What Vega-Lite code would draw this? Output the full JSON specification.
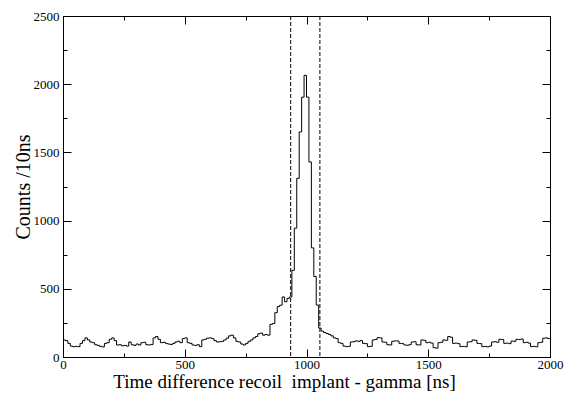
{
  "$schema": "https://vega.github.io/schema/vega-lite/v6.json",
  "width": 487,
  "height": 341,
  "autosize": "none",
  "padding": {"left": 63, "top": 16, "right": 14, "bottom": 36},
  "background": "white",
  "config": {
    "view": {"stroke": "black", "strokeWidth": 1},
    "font": "Liberation Serif",
    "axis": {
      "grid": false,
      "domainColor": "black",
      "tickColor": "black",
      "labelColor": "black",
      "labelFont": "Liberation Serif",
      "labelFontSize": 13,
      "titleFont": "Liberation Serif",
      "titleColor": "black",
      "titleFontWeight": "normal"
    }
  },
  "layer": [
    {
      "data": {"values": [
        {"t":0,"c":125},{"t":10,"c":120},{"t":20,"c":100},{"t":30,"c":80},{"t":40,"c":75},{"t":50,"c":78},{"t":60,"c":76},{"t":70,"c":100},{"t":80,"c":120},{"t":90,"c":140},
        {"t":100,"c":125},{"t":110,"c":110},{"t":120,"c":105},{"t":130,"c":90},{"t":140,"c":85},{"t":150,"c":78},{"t":160,"c":74},{"t":170,"c":100},{"t":180,"c":105},{"t":190,"c":130},
        {"t":200,"c":140},{"t":210,"c":120},{"t":220,"c":88},{"t":230,"c":90},{"t":240,"c":82},{"t":250,"c":85},{"t":260,"c":80},{"t":270,"c":110},{"t":280,"c":90},{"t":290,"c":85},
        {"t":300,"c":95},{"t":310,"c":88},{"t":320,"c":105},{"t":330,"c":108},{"t":340,"c":90},{"t":350,"c":88},{"t":360,"c":92},{"t":370,"c":140},{"t":380,"c":150},{"t":390,"c":130},
        {"t":400,"c":105},{"t":410,"c":108},{"t":420,"c":100},{"t":430,"c":95},{"t":440,"c":92},{"t":450,"c":100},{"t":460,"c":110},{"t":470,"c":115},{"t":480,"c":105},{"t":490,"c":135},
        {"t":500,"c":140},{"t":510,"c":105},{"t":520,"c":100},{"t":530,"c":88},{"t":540,"c":85},{"t":550,"c":90},{"t":560,"c":76},{"t":570,"c":125},{"t":580,"c":130},{"t":590,"c":138},
        {"t":600,"c":140},{"t":610,"c":135},{"t":620,"c":120},{"t":630,"c":110},{"t":640,"c":112},{"t":650,"c":115},{"t":660,"c":125},{"t":670,"c":138},{"t":680,"c":155},{"t":690,"c":160},
        {"t":700,"c":140},{"t":710,"c":115},{"t":720,"c":110},{"t":730,"c":95},{"t":740,"c":88},{"t":750,"c":100},{"t":760,"c":115},{"t":770,"c":125},{"t":780,"c":140},{"t":790,"c":150},
        {"t":800,"c":170},{"t":810,"c":175},{"t":820,"c":160},{"t":830,"c":165},{"t":840,"c":160},{"t":850,"c":240},{"t":860,"c":245},{"t":870,"c":325},{"t":880,"c":370},{"t":890,"c":380},
        {"t":900,"c":440},{"t":910,"c":405},{"t":920,"c":430},{"t":930,"c":440},{"t":940,"c":635},{"t":950,"c":945},{"t":960,"c":1310},{"t":970,"c":1650},{"t":980,"c":1905},{"t":990,"c":2065},
        {"t":1000,"c":1905},{"t":1010,"c":1430},{"t":1020,"c":800},{"t":1030,"c":590},{"t":1040,"c":381},{"t":1050,"c":212},{"t":1060,"c":190},{"t":1070,"c":180},{"t":1080,"c":172},{"t":1090,"c":165},
        {"t":1100,"c":155},{"t":1110,"c":140},{"t":1120,"c":135},{"t":1130,"c":105},{"t":1140,"c":100},{"t":1150,"c":80},{"t":1160,"c":76},{"t":1170,"c":78},{"t":1180,"c":110},{"t":1190,"c":112},
        {"t":1200,"c":118},{"t":1210,"c":115},{"t":1220,"c":120},{"t":1230,"c":100},{"t":1240,"c":98},{"t":1250,"c":76},{"t":1260,"c":78},{"t":1270,"c":125},{"t":1280,"c":128},{"t":1290,"c":142},
        {"t":1300,"c":140},{"t":1310,"c":110},{"t":1320,"c":108},{"t":1330,"c":90},{"t":1340,"c":88},{"t":1350,"c":115},{"t":1360,"c":118},{"t":1370,"c":117},{"t":1380,"c":100},{"t":1390,"c":98},
        {"t":1400,"c":88},{"t":1410,"c":86},{"t":1420,"c":90},{"t":1430,"c":110},{"t":1440,"c":112},{"t":1450,"c":90},{"t":1460,"c":88},{"t":1470,"c":125},{"t":1480,"c":122},{"t":1490,"c":105},
        {"t":1500,"c":108},{"t":1510,"c":102},{"t":1520,"c":68},{"t":1530,"c":65},{"t":1540,"c":105},{"t":1550,"c":108},{"t":1560,"c":125},{"t":1570,"c":122},{"t":1580,"c":150},{"t":1590,"c":145},
        {"t":1600,"c":100},{"t":1610,"c":102},{"t":1620,"c":98},{"t":1630,"c":76},{"t":1640,"c":78},{"t":1650,"c":75},{"t":1660,"c":110},{"t":1670,"c":112},{"t":1680,"c":125},{"t":1690,"c":122},
        {"t":1700,"c":100},{"t":1710,"c":98},{"t":1720,"c":76},{"t":1730,"c":78},{"t":1740,"c":75},{"t":1750,"c":80},{"t":1760,"c":110},{"t":1770,"c":112},{"t":1780,"c":108},{"t":1790,"c":130},
        {"t":1800,"c":128},{"t":1810,"c":100},{"t":1820,"c":102},{"t":1830,"c":98},{"t":1840,"c":117},{"t":1850,"c":115},{"t":1860,"c":130},{"t":1870,"c":128},{"t":1880,"c":132},{"t":1890,"c":105},
        {"t":1900,"c":108},{"t":1910,"c":102},{"t":1920,"c":76},{"t":1930,"c":78},{"t":1940,"c":75},{"t":1950,"c":105},{"t":1960,"c":108},{"t":1970,"c":138},{"t":1980,"c":140},{"t":1990,"c":135},
        {"t":2000,"c":135}
      ]},
      "mark": {"type": "line", "interpolate": "step-after", "color": "black", "strokeWidth": 1},
      "encoding": {
        "x": {
          "field": "t", "type": "quantitative",
          "scale": {"domain": [0, 2000], "nice": false, "zero": false},
          "title": "Time difference recoil\u00a0 implant - gamma [ns]",
          "axis": {
            "orient": "bottom",
            "values": [0,250,500,750,1000,1250,1500,1750,2000],
            "format": "d",
            "labelExpr": "datum.value % 500 === 0 ? datum.label : ''",
            "tickSize": {"condition": {"test": "datum.value % 500 === 0", "value": -8}, "value": -4},
            "labelPadding": 9,
            "labelFont": "Liberation Serif",
            "labelFlush": false,
            "labelOverlap": false,
            "titleFontSize": 19,
            "titlePadding": -3,
            "titleX": 221,
            "titleAlign": "center"
          }
        },
        "y": {
          "field": "c", "type": "quantitative",
          "scale": {"domain": [0, 2500], "nice": false},
          "title": "Counts /10ns",
          "axis": {
            "orient": "left",
            "values": [0,250,500,750,1000,1250,1500,1750,2000,2250,2500],
            "format": "d",
            "labelExpr": "datum.value % 500 === 0 ? datum.label : ''",
            "tickSize": {"condition": {"test": "datum.value % 500 === 0", "value": -8}, "value": -4},
            "labelPadding": 12,
            "labelFont": "Liberation Serif",
            "labelFlush": false,
            "labelOverlap": false,
            "titleFontSize": 20,
            "titlePadding": 0
          }
        }
      }
    },
    {
      "data": {"values": [{"t": 935}, {"t": 1055}]},
      "mark": {"type": "rule", "color": "black", "strokeWidth": 1, "strokeDash": [4, 2]},
      "encoding": {
        "x": {
          "field": "t", "type": "quantitative",
          "axis": {
            "orient": "top",
            "values": [0,250,500,750,1000,1250,1500,1750,2000],
            "labels": false,
            "title": null,
            "tickSize": {"condition": {"test": "datum.value % 500 === 0", "value": -8}, "value": -4}
          }
        }
      }
    },
    {
      "data": {"values": [{"t": 0, "c": 0}]},
      "mark": {"type": "point", "opacity": 0},
      "encoding": {
        "x": {"field": "t", "type": "quantitative", "axis": null},
        "y": {
          "field": "c", "type": "quantitative",
          "axis": {
            "orient": "right",
            "values": [0,250,500,750,1000,1250,1500,1750,2000,2250,2500],
            "labels": false,
            "title": null,
            "tickSize": {"condition": {"test": "datum.value % 500 === 0", "value": -8}, "value": -4}
          }
        }
      }
    }
  ],
  "resolve": {"axis": {"x": "independent", "y": "independent"}}
}
